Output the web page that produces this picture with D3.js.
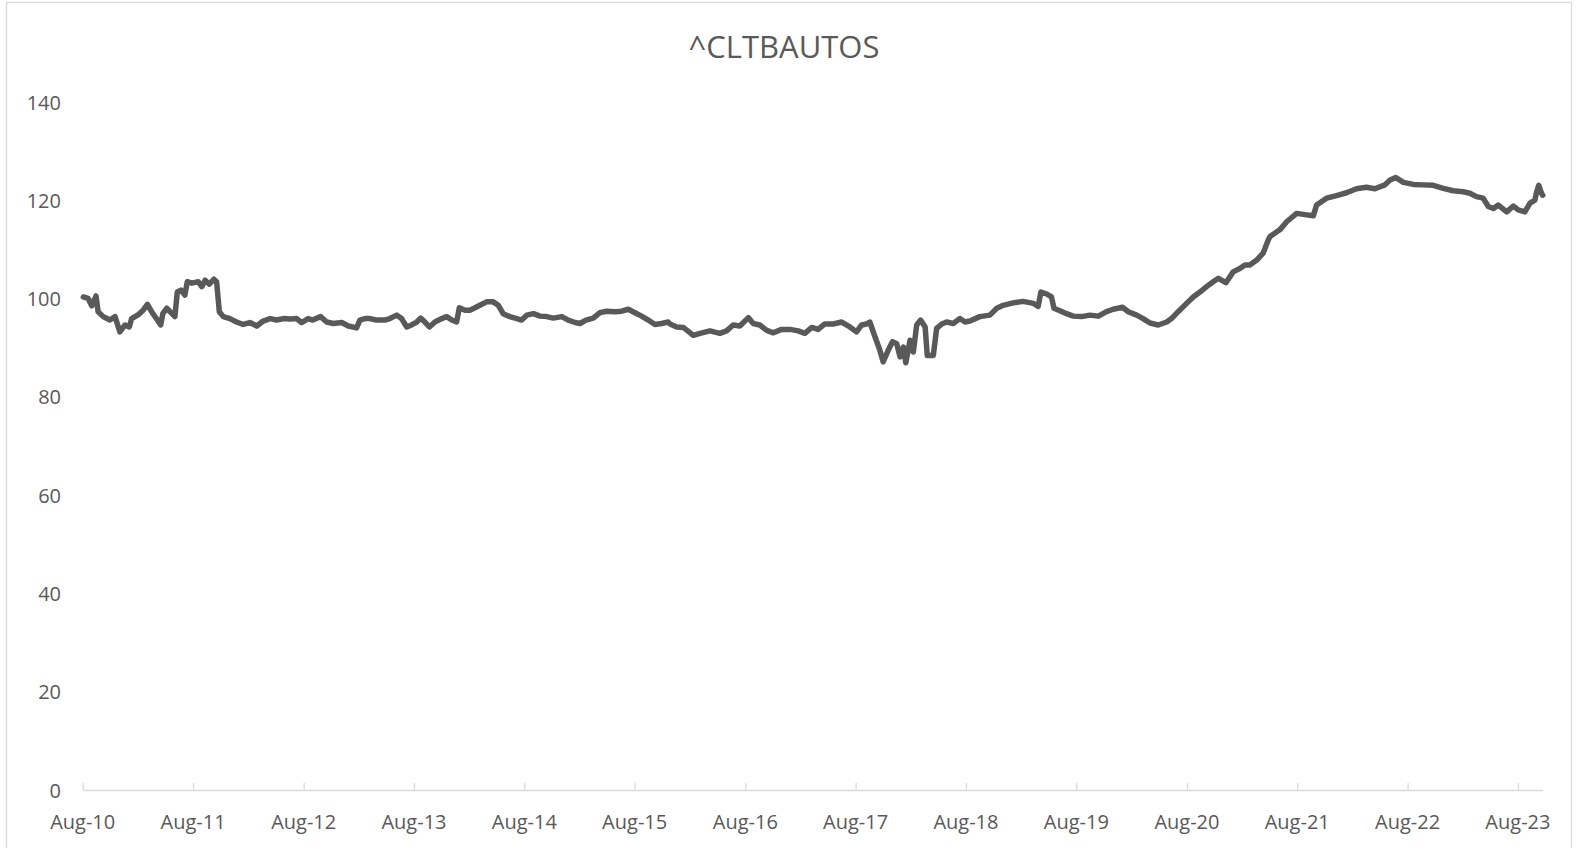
<!DOCTYPE html>
<html>
<head>
<meta charset="utf-8">
<script src="https://cdn.jsdelivr.net/npm/d3@7"></script>
<style>
  body { margin: 0; background: #fff; }
  text { font-family: "Open Sans", sans-serif; fill: #595959; }
</style>
</head>
<body>
<div id="chart"></div>
<script>
// Données
const title = "^CLTBAUTOS";

const dates = [
  "2010-08-03","2010-08-19","2010-08-31","2010-09-14","2010-09-21","2010-10-08","2010-10-30","2010-11-16",
  "2010-12-02","2010-12-19","2011-01-02","2011-01-10","2011-02-01","2011-02-17","2011-03-03","2011-03-17",
  "2011-04-05","2011-04-16","2011-04-23","2011-05-06","2011-05-17","2011-06-02","2011-06-10","2011-06-22",
  "2011-07-05","2011-07-13","2011-07-28","2011-08-18","2011-08-30","2011-09-10","2011-09-24","2011-10-09",
  "2011-10-18","2011-10-27","2011-11-09","2011-12-01","2011-12-23","2012-01-14","2012-02-05","2012-02-28",
  "2012-03-20","2012-04-12","2012-05-04","2012-05-26","2012-06-17","2012-07-09","2012-07-25","2012-08-16",
  "2012-08-31","2012-09-26","2012-10-16","2012-11-07","2012-12-05","2012-12-27","2013-01-23","2013-02-03",
  "2013-02-20","2013-03-08","2013-03-30","2013-04-27","2013-05-13","2013-06-05","2013-06-21","2013-07-08",
  "2013-07-24","2013-08-10","2013-08-23","2013-09-06","2013-09-21","2013-10-09","2013-11-01","2013-11-17",
  "2013-12-04","2013-12-20","2013-12-29","2014-01-17","2014-02-02","2014-02-19","2014-03-07","2014-03-29",
  "2014-04-20","2014-05-07","2014-05-23","2014-06-14","2014-07-07","2014-07-23","2014-08-09","2014-08-31",
  "2014-09-22","2014-10-14","2014-11-05","2014-12-03","2014-12-24","2015-01-16","2015-02-01","2015-02-21",
  "2015-03-17","2015-04-08","2015-04-30","2015-05-28","2015-06-19","2015-07-11","2015-08-02","2015-08-24",
  "2015-09-15","2015-10-07","2015-10-29","2015-11-20","2015-11-26","2015-12-18","2016-01-09","2016-02-11",
  "2016-03-04","2016-04-06","2016-05-09","2016-05-31","2016-06-22","2016-07-14","2016-08-11","2016-08-27",
  "2016-09-18","2016-10-11","2016-11-02","2016-11-29","2016-12-27","2017-01-23","2017-02-14","2017-03-09",
  "2017-03-30","2017-04-21","2017-05-19","2017-06-16","2017-07-13","2017-08-04","2017-08-21","2017-09-06",
  "2017-09-17","2017-10-04","2017-10-20","2017-10-31","2017-11-17","2017-12-01","2017-12-15","2017-12-26",
  "2018-01-06","2018-01-14","2018-01-28","2018-02-08","2018-02-19","2018-03-04","2018-03-19","2018-03-26",
  "2018-04-15","2018-04-26","2018-05-13","2018-05-29","2018-06-20","2018-07-12","2018-07-29","2018-08-14",
  "2018-09-16","2018-10-19","2018-11-11","2018-12-02","2019-01-04","2019-02-06","2019-03-12","2019-03-28",
  "2019-04-06","2019-04-25","2019-05-11","2019-05-19","2019-06-08","2019-06-30","2019-07-22","2019-08-19",
  "2019-09-15","2019-10-13","2019-11-09","2019-12-01","2020-01-01","2020-01-20","2020-02-17","2020-03-09",
  "2020-04-01","2020-04-28","2020-05-26","2020-06-11","2020-07-03","2020-07-31","2020-08-22","2020-09-13",
  "2020-10-05","2020-10-27","2020-11-13","2020-12-08","2021-01-01","2021-01-23","2021-02-09","2021-02-25",
  "2021-03-20","2021-04-10","2021-04-27","2021-05-03","2021-06-05","2021-06-27","2021-07-30","2021-09-01",
  "2021-09-23","2021-10-04","2021-11-06","2021-12-09","2022-01-11","2022-02-13","2022-03-18","2022-04-15",
  "2022-05-18","2022-06-04","2022-06-23","2022-07-18","2022-08-20","2022-09-22","2022-10-25","2022-11-27",
  "2022-12-30","2023-02-01","2023-02-23","2023-03-17","2023-04-08","2023-04-25","2023-05-12","2023-05-28",
  "2023-06-25","2023-07-17","2023-08-02","2023-08-24","2023-09-10","2023-09-26","2023-10-02","2023-10-09",
  "2023-10-18","2023-10-22"
];

const values = [
  100.3,100.0,98.5,100.5,97.3,96.3,95.6,96.3,
  93.2,94.6,94.2,95.9,96.7,97.6,98.8,97.3,
  95.6,94.6,96.9,98.0,97.3,96.3,101.3,101.7,
  100.7,103.4,103.1,103.4,102.4,103.7,102.9,103.9,
  103.4,97.3,96.3,95.9,95.2,94.7,95.1,94.4,
  95.4,95.9,95.6,95.9,95.8,95.9,95.1,95.9,
  95.6,96.3,95.2,94.9,95.1,94.4,94.0,95.6,
  95.9,95.9,95.6,95.6,95.9,96.6,95.9,94.2,
  94.6,95.2,96.0,95.2,94.2,95.2,95.9,96.3,
  95.6,95.2,98.1,97.6,97.6,98.1,98.6,99.3,
  99.3,98.6,96.9,96.3,95.9,95.6,96.6,96.9,
  96.4,96.3,96.0,96.3,95.6,95.1,94.9,95.6,
  96.0,97.1,97.4,97.3,97.4,97.8,97.1,96.4,
  95.6,94.7,94.9,95.2,94.8,94.2,94.1,92.5,
  92.9,93.4,92.9,93.4,94.6,94.4,96.1,94.9,
  94.6,93.5,93.0,93.7,93.7,93.4,92.9,94.1,
  93.7,94.8,94.8,95.2,94.2,93.2,94.6,94.8,
  95.2,92.2,89.5,87.1,89.5,91.2,90.8,88.1,
  90.1,86.9,91.5,89.1,94.6,95.6,94.2,88.4,
  88.4,93.9,94.8,95.2,94.9,95.9,95.2,95.4,
  96.3,96.6,98.0,98.6,99.1,99.4,99.0,98.4,
  101.3,100.9,100.3,98.0,97.5,96.9,96.4,96.3,
  96.6,96.4,97.3,97.8,98.2,97.3,96.6,95.9,
  95.0,94.6,95.2,95.9,97.3,99.0,100.3,101.3,
  102.4,103.4,104.1,103.2,105.4,106.1,106.8,106.8,
  107.8,109.2,111.9,112.6,114.0,115.6,117.3,117.0,
  116.8,119.0,120.4,120.9,121.5,122.3,122.6,122.3,
  123.1,124.1,124.6,123.6,123.2,123.1,123.0,122.4,
  121.9,121.7,121.4,120.7,120.4,118.7,118.3,119.0,
  117.6,118.8,118.0,117.6,119.4,120.0,121.7,123.0,
  121.4,121.0
];

const yTicks = [0, 20, 40, 60, 80, 100, 120, 140];
const xTicks = ["2010-08-01","2011-08-01","2012-08-01","2013-08-01","2014-08-01","2015-08-01","2016-08-01",
  "2017-08-01","2018-08-01","2019-08-01","2020-08-01","2021-08-01","2022-08-01","2023-08-01"];
const xStart = "2010-08-01";
const xEnd = "2023-10-22";

const width = 1578, height = 848;
const parse = d3.timeParse("%Y-%m-%d");
const data = dates.map((d, i) => ({ date: parse(d), value: values[i] }));
const xTickDates = xTicks.map(parse);

const svg = d3.select("#chart")
  .append("svg")
  .attr("width", width)
  .attr("height", height);

// Cadre du graphique
svg.append("rect")
  .attr("x", 6.5)
  .attr("y", 2.5)
  .attr("width", 1565)
  .attr("height", 860)
  .attr("fill", "#fff")
  .attr("stroke", "#d9d9d9")
  .attr("stroke-width", 1.3);

// Échelles
const x = d3.scaleTime()
  .domain([parse(xStart), parse(xEnd)])
  .range([82.7, 1542.7]);

const y = d3.scaleLinear()
  .domain([0, 140])
  .range([790, 101.8]);

// Titre
svg.append("text")
  .attr("x", 784)
  .attr("y", 58)
  .attr("text-anchor", "middle")
  .style("font-size", "31px")
  .text(title);

// Axe Y (étiquettes seulement)
const yAxis = svg.append("g")
  .attr("transform", "translate(61,0)")
  .call(d3.axisLeft(y).tickValues(yTicks).tickSize(0).tickPadding(0));
yAxis.select(".domain").remove();
yAxis.selectAll("text")
  .style("font-size", "20px")
  .attr("fill", "#595959")
  .attr("dy", "0.36em");

// Axe X
const xAxis = svg.append("g")
  .attr("transform", `translate(0,${y(0)})`)
  .call(d3.axisTop(x).tickValues(xTickDates).tickSize(7).tickSizeOuter(0).tickFormat(""));
xAxis.select(".domain").attr("stroke", "#d9d9d9").attr("stroke-width", 1.3);
xAxis.selectAll(".tick line").attr("stroke", "#d9d9d9").attr("stroke-width", 1.3);

const fmt = d3.timeFormat("%b-%y");
svg.append("g")
  .selectAll("text")
  .data(xTickDates)
  .enter()
  .append("text")
  .attr("x", d => x(d))
  .attr("y", 829)
  .attr("text-anchor", "middle")
  .style("font-size", "20px")
  .text(d => fmt(d));

// Courbe
const line = d3.line()
  .x(d => x(d.date))
  .y(d => y(d.value));

svg.append("path")
  .datum(data)
  .attr("fill", "none")
  .attr("stroke", "#595959")
  .attr("stroke-width", 5.5)
  .attr("stroke-linejoin", "round")
  .attr("stroke-linecap", "round")
  .attr("d", line);
</script>
</body>
</html>
